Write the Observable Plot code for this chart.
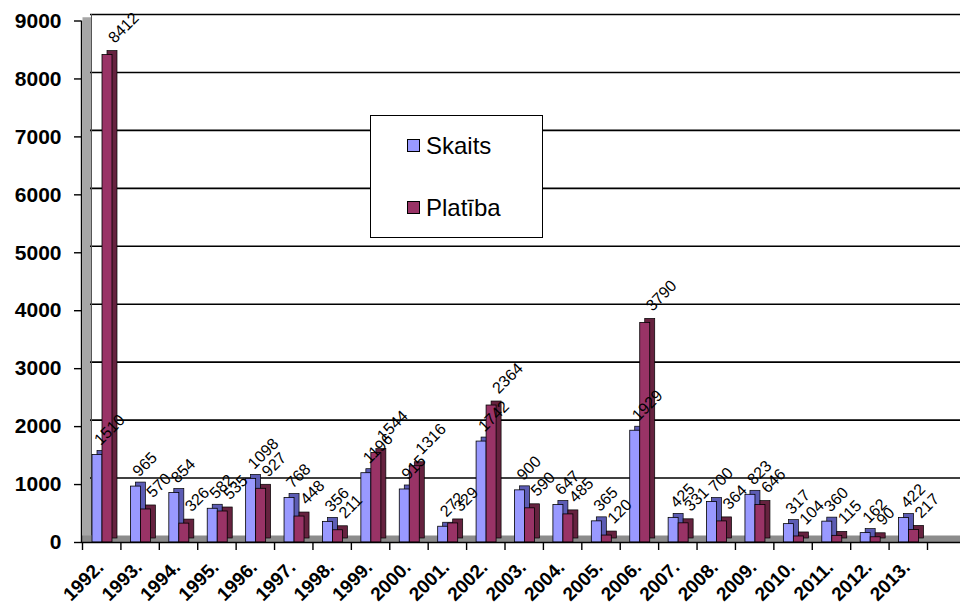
<!DOCTYPE html>
<html><head><meta charset="utf-8">
<script src="https://cdn.jsdelivr.net/npm/d3@7"></script>
<script src="https://cdn.jsdelivr.net/npm/@observablehq/plot@0.6"></script>
<style>
body{margin:0;background:#fff;font-family:"Liberation Sans",Arial,sans-serif;}
#wrap{position:relative;width:960px;height:608px;overflow:hidden;}
#legend{position:absolute;left:370px;top:115px;width:173px;height:123px;box-sizing:border-box;border:1.5px solid #000;background:#fff;}
.sw{position:absolute;left:36px;width:13px;height:13px;box-sizing:border-box;border:1.5px solid #000;}
.lt{position:absolute;left:55px;font-size:24px;line-height:24px;color:#000;white-space:nowrap;}
</style></head>
<body><div id="wrap"></div>
<script>
const years = ["1992.","1993.","1994.","1995.","1996.","1997.","1998.","1999.","2000.","2001.","2002.","2003.","2004.","2005.","2006.","2007.","2008.","2009.","2010.","2011.","2012.","2013."];
const skaits = [1510,965,854,582,1098,768,356,1196,915,272,1742,900,647,365,1929,425,700,823,317,360,162,422];
const platiba = [8412,570,326,535,927,448,211,1544,1316,329,2364,590,485,120,3790,331,364,646,104,115,90,217];
const seriesNames = ["Skaits","Platība"];
const seriesColors = ["#9999ff","#993366"];
const seriesDepth = ["#5c5cb4","#66223f"];
const yTicks = [0,1000,2000,3000,4000,5000,6000,7000,8000,9000];

const sk = years.map((y,i)=>({year:y, series:seriesNames[0], value:skaits[i]}));
const pl = years.map((y,i)=>({year:y, series:seriesNames[1], value:platiba[i]}));

const bw = 845/22, half = bw/2;

const chart = Plot.plot({
  width:960, height:608,
  marginTop:20.5, marginBottom:66, marginLeft:81, marginRight:0,
  x:{type:"band", domain:years, range:[82,927], padding:0, round:false, label:null},
  y:{domain:[0,9000], label:null},
  style:{fontFamily:"'Liberation Sans', Arial, sans-serif", color:"#000", background:"transparent", overflow:"visible"},
  marks:[
    // left wall
    Plot.ruleX([years[0]], {y1:0, y2:9000, dx:-half+4.5, dy:-3.25, stroke:"#a6a6a6", strokeWidth:9}),
    // floor
    Plot.ruleY([0], {dy:-3.5, stroke:"#8c8c8c", strokeWidth:7}),
    // back wall gridlines
    Plot.ruleY(yTicks.filter(v=>v>0), {dy:-6.5, insetLeft:9, stroke:"#000", strokeWidth:1.6}),
    Plot.ruleX([years[0]], {y1:0, y2:9000, dx:-half+9, dy:-6.5, stroke:"#555", strokeWidth:1}),
    // Skaits bars (depth + front)
    Plot.barY(sk, {x:"year", y:"value", insetLeft:10, insetRight:bw-20, dx:5, dy:-4, fill:seriesDepth[0], stroke:"#000", strokeWidth:0.7}),
    Plot.barY(sk, {x:"year", y:"value", insetLeft:10, insetRight:bw-20, fill:seriesColors[0], stroke:"#000", strokeWidth:0.8}),
    // Platība bars
    Plot.barY(pl, {x:"year", y:"value", insetLeft:20, insetRight:bw-30, dx:5, dy:-4, fill:seriesDepth[1], stroke:"#000", strokeWidth:0.7}),
    Plot.barY(pl, {x:"year", y:"value", insetLeft:20, insetRight:bw-30, fill:seriesColors[1], stroke:"#000", strokeWidth:0.8}),
    // front axis lines
    Plot.ruleY([0], {stroke:"#000", strokeWidth:1.6}),
    Plot.ruleX([years[0]], {y1:0, y2:9000, dx:-half-1, stroke:"#000", strokeWidth:1.4}),
    // y axis
    Plot.axisY(yTicks, {tickSize:7, tickPadding:13, fontSize:21, fontWeight:"bold", strokeWidth:1.4, fill:"#000", tickFormat:"d", label:null}),
    // x boundary ticks
    Plot.axisX(years, {tickSize:8, dx:-half, tickFormat:()=>"", strokeWidth:1.4, label:null}),
    Plot.axisX([years[years.length-1]], {tickSize:8, dx:half, tickFormat:()=>"", strokeWidth:1.4, label:null}),
    // value labels
    Plot.text(sk, {x:"year", y:"value", text:d=>String(d.value), rotate:-45, textAnchor:"start", lineAnchor:"bottom", dx:-1, dy:-9, fontSize:16, fill:"#000"}),
    Plot.text(pl, {x:"year", y:"value", text:d=>String(d.value), rotate:-45, textAnchor:"start", lineAnchor:"bottom", dx:13, dy:-11, fontSize:16, fill:"#000"}),
    // year labels
    Plot.text(years, {x:d=>d, frameAnchor:"bottom", text:d=>d, rotate:-45, textAnchor:"end", lineAnchor:"bottom", dx:3, dy:26, fontSize:19, fontWeight:"bold", fill:"#000"})
  ]
});

const wrap = document.getElementById("wrap");
wrap.appendChild(chart);

const legend = document.createElement("div");
legend.id = "legend";
const tops = [[23,17.5],[85,79.5]];
seriesNames.forEach((name,i)=>{
  const sw = document.createElement("div");
  sw.className = "sw";
  sw.style.top = tops[i][0] + "px";
  sw.style.background = seriesColors[i];
  const t = document.createElement("div");
  t.className = "lt";
  t.style.top = tops[i][1] + "px";
  t.textContent = name;
  legend.appendChild(sw); legend.appendChild(t);
});
wrap.appendChild(legend);
</script>
</body></html>
